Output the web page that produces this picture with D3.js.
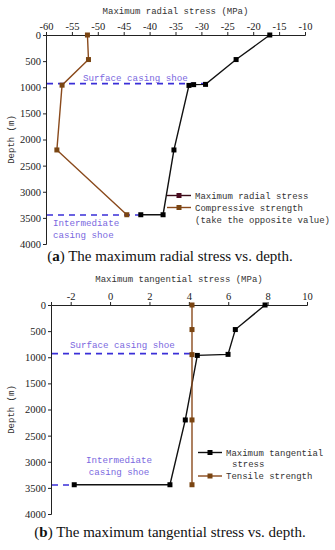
<!DOCTYPE html>
<html>
<head>
<meta charset="utf-8">
<script src="https://cdn.jsdelivr.net/npm/d3@7/dist/d3.min.js"></script>
<style>
  body { margin: 0; background: #fff; }
  svg { display: block; }
  .caption { font-family: "Liberation Serif", serif; font-size: 15px; fill: #111; }
</style>
</head>
<body>
<div id="chart"></div>
<script>
// depth values shared by both panels (m)
const depthTicks = [0, 500, 1000, 1500, 2000, 2500, 3000, 3500, 4000];

// panel a: maximum radial stress (MPa)
const radialDepth = [0, 470, 945, 950, 965, 2200, 3440, 3440];
const radialStress = [-16.8, -23.3, -29.2, -31.5, -32.4, -35.3, -37.4, -41.7];
const compDepth = [0, 470, 960, 2200, 3440];
const compStrength = [-52, -51.8, -56.9, -57.9, -44.4];
const radialTicks = [-60, -55, -50, -45, -40, -35, -30, -25, -20, -15, -10];

// panel b: maximum tangential stress (MPa)
const tangDepth = [0, 470, 945, 965, 2200, 3440, 3440];
const tangStress = [7.87, 6.36, 5.99, 4.43, 3.82, 3.04, -1.82];
const tensDepth = [0, 470, 950, 2200, 3440];
const tensStrength = [4.16, 4.16, 4.16, 4.16, 4.16];
const tangTicks = [-2, 0, 2, 4, 6, 8, 10];

const shoeDepth = { surface: 930, intermediate: 3445 };

const W = 335, H = 550;
const svg = d3.select('#chart').append('svg').attr('width', W).attr('height', H);

const monoFont = '"Liberation Mono", "DejaVu Sans Mono", monospace';
const serifFont = '"Liberation Serif", serif';
const blackCol = '#111';
const brownCol = '#8a4a1c';
const dashCol = '#3a2fd8';
const labelCol = '#7a68e0';

function monoText(g, size) {
    return g.append('text')
        .attr('font-family', monoFont)
        .attr('font-size', size || 9);
}

function drawPanel(p) {
    const g = svg.append('g');
    const x = d3.scaleLinear().domain(p.xDomain).range([p.left, p.right]);
    const y = d3.scaleLinear().domain([0, 4000]).range([p.top, p.bottom]);

    const styleAxis = a => {
        a.selectAll('path, line').attr('stroke', '#222');
        a.selectAll('text')
            .attr('font-family', serifFont)
            .attr('font-size', 10.5)
            .attr('fill', '#222');
    };

    g.append('g')
        .attr('transform', `translate(0,${p.top})`)
        .call(d3.axisTop(x).tickValues(p.xTicks).tickSize(3).tickPadding(2).tickFormat(d => d < 0 ? '-' + Math.abs(d) : d))
        .call(styleAxis);

    g.append('g')
        .attr('transform', `translate(${p.left},0)`)
        .call(d3.axisLeft(y).tickValues(depthTicks).tickSize(3).tickPadding(2).tickFormat(d3.format('d')))
        .call(styleAxis);

    monoText(g)
        .attr('x', (p.left + p.right) / 2).attr('y', p.titleY)
        .attr('text-anchor', 'middle').attr('fill', '#333')
        .text(p.title);

    monoText(g)
        .attr('transform', `translate(${p.yTitleX},${(p.top + p.bottom) / 2}) rotate(-90)`)
        .attr('text-anchor', 'middle').attr('fill', '#333')
        .text('Depth (m)');

    // casing shoe dashed lines
    [[shoeDepth.surface, p.surfaceEnd], [shoeDepth.intermediate, p.interEnd]].forEach(([d, xe]) => {
        g.append('line')
            .attr('x1', p.left + 1).attr('x2', x(xe))
            .attr('y1', y(d)).attr('y2', y(d))
            .attr('stroke', dashCol).attr('stroke-width', 1.6)
            .attr('stroke-dasharray', '6,5');
    });

    const line = d3.line().x(d => x(d[0])).y(d => y(d[1]));
    p.series.forEach(s => {
        const pts = s.vals.map((v, i) => [v, s.depth[i]]);
        g.append('path').attr('d', line(pts))
            .attr('fill', 'none').attr('stroke', s.color).attr('stroke-width', 1.4);
        g.selectAll(null).data(pts).enter().append('rect')
            .attr('x', d => x(d[0]) - 2.5).attr('y', d => y(d[1]) - 2.5)
            .attr('width', 5).attr('height', 5)
            .attr('fill', s.marker);
    });

    // shoe labels
    p.shoeLabels.forEach(l => {
        monoText(g, 9.2)
            .attr('x', l.x).attr('y', l.y).attr('fill', labelCol)
            .attr('text-anchor', l.anchor || 'start')
            .text(l.text);
    });

    // legend
    p.legend.forEach(l => {
        if (l.color) {
            g.append('line').attr('x1', l.x).attr('x2', l.x + 24)
                .attr('y1', l.y).attr('y2', l.y)
                .attr('stroke', l.color).attr('stroke-width', 1.4);
            g.append('rect').attr('x', l.x + 9.5).attr('y', l.y - 2.5)
                .attr('width', 5).attr('height', 5).attr('fill', l.marker);
        }
        monoText(g, 9)
            .attr('x', l.x + 28 + (l.indent || 0)).attr('y', l.y + 3)
            .attr('fill', '#333')
            .text(l.text);
    });

    const cap = g.append('text').attr('class', 'caption')
        .attr('x', p.capX).attr('y', p.capY).attr('text-anchor', 'middle');
    cap.append('tspan').text('(');
    cap.append('tspan').style('font-weight', 'bold').text(p.capLetter);
    cap.append('tspan').text(') ' + p.capText);
}

drawPanel({
    xDomain: [-60, -10], xTicks: radialTicks,
    left: 46, right: 305, top: 35, bottom: 244,
    title: 'Maximum radial stress (MPa)', titleY: 14, yTitleX: 14,
    surfaceEnd: -29.2, interEnd: -41.7,
    series: [
        { vals: radialStress, depth: radialDepth, color: blackCol, marker: '#000' },
        { vals: compStrength, depth: compDepth, color: brownCol, marker: '#7a4512' }
    ],
    shoeLabels: [
        { text: 'Surface casing shoe', x: 83, y: 81 },
        { text: 'Intermediate', x: 53, y: 226 },
        { text: 'casing shoe', x: 53, y: 238 }
    ],
    legend: [
        { text: 'Maximum radial stress', x: 167, y: 195.5, color: '#3a0c18', marker: '#4a0c20' },
        { text: 'Compressive strength', x: 167, y: 207.5, color: brownCol, marker: '#7a4512' },
        { text: '(take the opposite value)', x: 167, y: 219.5, color: null }
    ],
    capX: 170, capY: 261, capLetter: 'a', capText: 'The maximum radial stress vs. depth.'
});

drawPanel({
    xDomain: [-3, 10], xTicks: tangTicks,
    left: 51, right: 307, top: 305, bottom: 514,
    title: 'Maximum tangential stress (MPa)', titleY: 282, yTitleX: 14,
    surfaceEnd: 4.2, interEnd: -1.82,
    series: [
        { vals: tangStress, depth: tangDepth, color: blackCol, marker: '#000' },
        { vals: tensStrength, depth: tensDepth, color: brownCol, marker: '#7a4512' }
    ],
    shoeLabels: [
        { text: 'Surface casing shoe', x: 70, y: 347.5 },
        { text: 'Intermediate', x: 119, y: 463, anchor: 'middle' },
        { text: 'casing shoe', x: 119, y: 475, anchor: 'middle' }
    ],
    legend: [
        { text: 'Maximum tangential', x: 198, y: 452.5, color: blackCol, marker: '#000' },
        { text: 'stress', x: 198, y: 464, color: null, indent: 6 },
        { text: 'Tensile strength', x: 198, y: 476, color: brownCol, marker: '#7a4512' }
    ],
    capX: 170, capY: 537, capLetter: 'b', capText: 'The maximum tangential stress vs. depth.'
});
</script>
</body>
</html>
